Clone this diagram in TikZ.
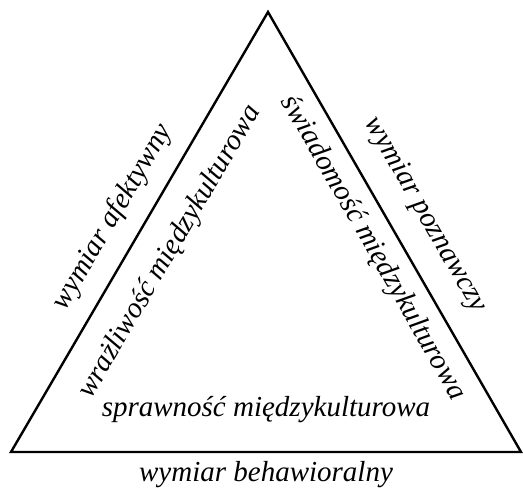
\documentclass[tikz,border=0pt]{standalone}
\usepackage{fontspec}
\setmainfont{Liberation Serif}[ItalicFont={Liberation Serif Italic}]
\begin{document}
\begin{tikzpicture}[x=1pt, y=-1pt,
    dimtext/.style={font=\fontsize{29}{34}\selectfont\itshape, inner sep=0pt}]
    \useasboundingbox (0,0) rectangle (523,494);

    % wierzcholki trojkata
    \coordinate (T) at (268, 12);
    \coordinate (L) at (11, 452);
    \coordinate (R) at (521, 452);

    \draw[line width=2.4pt] (T) -- (L) -- (R) -- cycle;

    % wymiary (na zewnatrz)
    \node[dimtext, rotate=59.6] (afekt) at (113, 217) {wymiar afektywny};
    \node[dimtext, rotate=-60.2] (pozn) at (425, 215) {wymiar poznawczy};
    \node[dimtext] (behaw) at (266, 475) {wymiar behawioralny};

    % kompetencje (wewnatrz)
    \node[dimtext, rotate=59.6] (wraz) at (170, 252) {wrażliwość międzykulturowa};
    \node[dimtext, rotate=-60.2] (swiad) at (373, 248) {świadomość międzykulturowa};
    \node[dimtext] (spraw) at (266, 410) {sprawność międzykulturowa};
\end{tikzpicture}
\end{document}
